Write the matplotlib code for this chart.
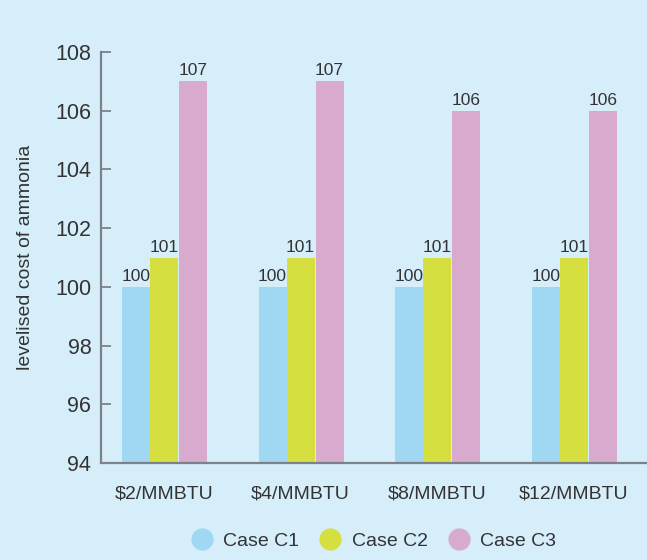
import numpy as np
import matplotlib
matplotlib.use('Agg')
import matplotlib.pyplot as plt
from matplotlib.lines import Line2D

# levelised cost of ammonia, indexed to Case C1 = 100
gas_prices = ['$2/MMBTU', '$4/MMBTU', '$8/MMBTU', '$12/MMBTU']
cases = ['Case C1', 'Case C2', 'Case C3']
case_c1 = [100, 100, 100, 100]
case_c2 = [101, 101, 101, 101]
case_c3 = [107, 107, 106, 106]

BG = '#d5eefa'
COLORS = ['#a0d7f3', '#d6df40', '#d8aace']
INK = '#333333'
AXIS = '#7d828a'

plt.rcParams['font.family'] = ['Liberation Sans', 'DejaVu Sans']

fig = plt.figure(figsize=(6.47, 5.6), dpi=100, facecolor=BG)
ax = fig.add_axes([101 / 647, 97 / 560, 546 / 647, 411 / 560])
ax.set_facecolor(BG)

x = np.arange(len(gas_prices))
w = 0.205
offsets = [-w, 0, w + 0.007]
for series, off, col in zip([case_c1, case_c2, case_c3], offsets, COLORS):
    bars = ax.bar(x + off, np.array(series) - 94, width=w, bottom=94,
                  color=col, linewidth=0)
    for b, v in zip(bars, series):
        ax.text(b.get_x() + b.get_width() / 2, v + 0.1, f'{v:.0f}',
                ha='center', va='bottom', fontsize=12.5, color=INK)

ax.set_ylim(94, 108)
ax.set_xlim(-0.46, 3.535)
ax.set_yticks(range(94, 109, 2))
ax.set_xticks(x, gas_prices)
ax.tick_params(axis='y', direction='in', length=7.5, width=1.3, color=AXIS,
               labelsize=15.5, labelcolor=INK, pad=7)
ax.tick_params(axis='x', length=0, labelsize=14, labelcolor=INK, pad=16)
ax.set_ylabel('levelised cost of ammonia', fontsize=14, color=INK,
              labelpad=15)

for side in ['top', 'right']:
    ax.spines[side].set_visible(False)
for side in ['left', 'bottom']:
    ax.spines[side].set_color(AXIS)
    ax.spines[side].set_linewidth(1.6)
ax.spines['left'].set_bounds(94, 108)

handles = [Line2D([], [], ls='none', marker='o', markersize=16,
                  markerfacecolor=c, markeredgewidth=0) for c in COLORS]
leg = ax.legend(handles, cases, loc='center', bbox_to_anchor=(0.5, -0.19),
                ncol=3, frameon=False, fontsize=14, handlelength=1.0,
                handletextpad=0.6, columnspacing=1.1)
for t in leg.get_texts():
    t.set_color(INK)

fig.savefig('out.png', dpi=100, facecolor=BG)
